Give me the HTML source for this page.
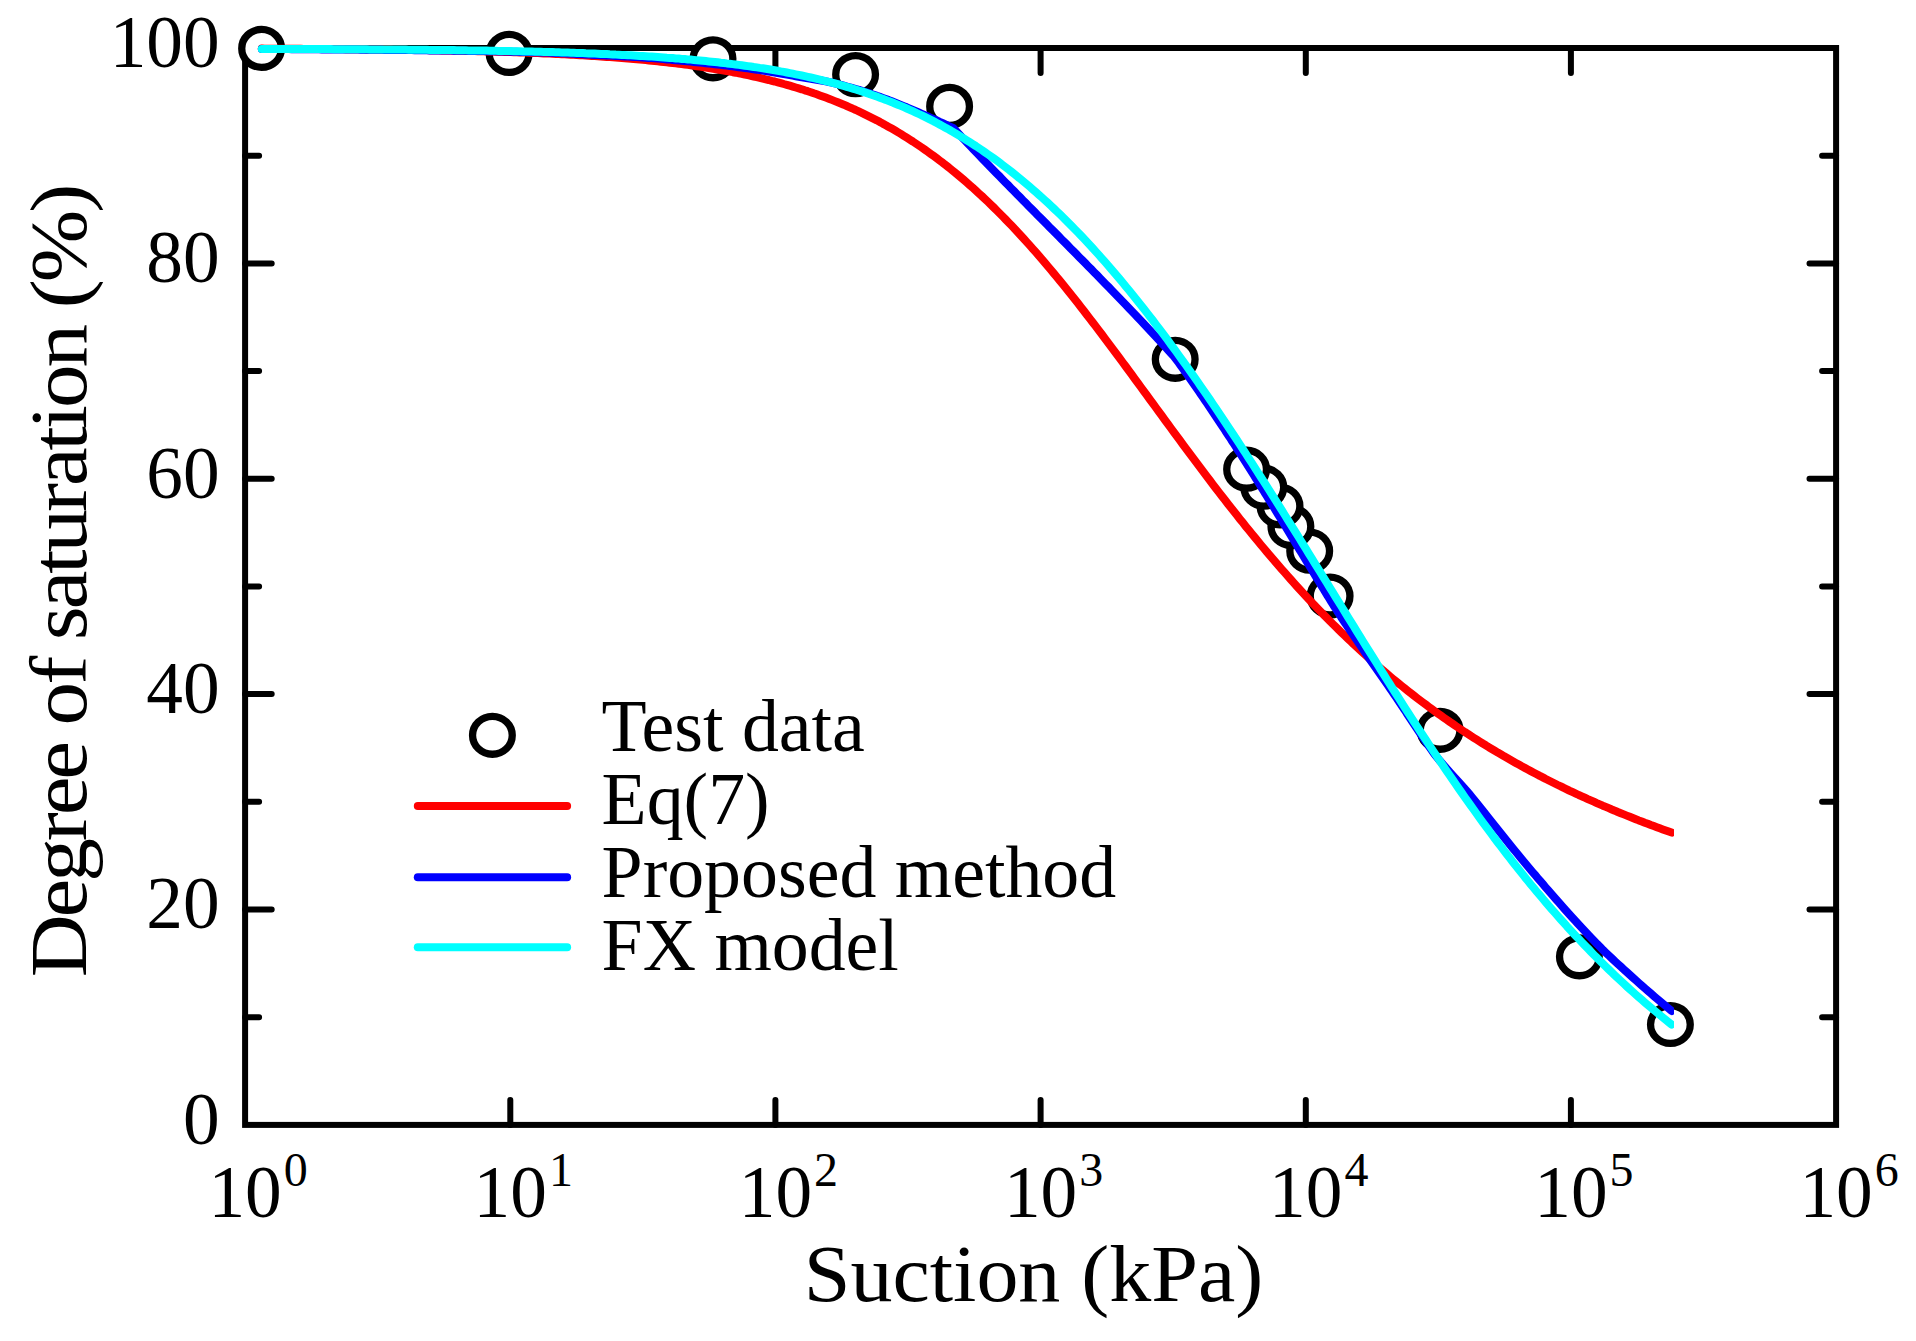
<!DOCTYPE html>
<html><head><meta charset="utf-8"><title>Chart</title>
<style>html,body{margin:0;padding:0;background:#fff}svg{display:block}</style></head>
<body>
<svg width="1916" height="1341" viewBox="0 0 1916 1341" style="display:block" font-family="'Liberation Serif', serif" fill="#000">
<rect width="1916" height="1341" fill="#fff"/>
<g stroke="#000" stroke-width="6.0" fill="none" stroke-linecap="round">
<rect x="245.1" y="48.0" width="1591.0" height="1076.9" stroke-linejoin="miter"/>
<path d="M245.1,1017.2h14.0M1836.1,1017.2h-14.0"/>
<path d="M245.1,909.5h26.6M1836.1,909.5h-26.6"/>
<path d="M245.1,801.8h14.0M1836.1,801.8h-14.0"/>
<path d="M245.1,694.1h26.6M1836.1,694.1h-26.6"/>
<path d="M245.1,586.5h14.0M1836.1,586.5h-14.0"/>
<path d="M245.1,478.8h26.6M1836.1,478.8h-26.6"/>
<path d="M245.1,371.1h14.0M1836.1,371.1h-14.0"/>
<path d="M245.1,263.4h26.6M1836.1,263.4h-26.6"/>
<path d="M245.1,155.7h14.0M1836.1,155.7h-14.0"/>
<path d="M510.3,1124.9v-25M510.3,48.0v25"/>
<path d="M775.4,1124.9v-25M775.4,48.0v25"/>
<path d="M1040.6,1124.9v-25M1040.6,48.0v25"/>
<path d="M1305.8,1124.9v-25M1305.8,48.0v25"/>
<path d="M1570.9,1124.9v-25M1570.9,48.0v25"/>
</g>
<g font-size="73.3" text-anchor="end">
<text x="219.6" y="1143.6">0</text>
<text x="219.6" y="928.2">20</text>
<text x="219.6" y="712.8">40</text>
<text x="219.6" y="497.5">60</text>
<text x="219.6" y="282.1">80</text>
<text x="219.6" y="66.7">100</text>
</g>
<text x="208.4" y="1216.7" font-size="73.3">10<tspan font-size="48" dx="2" dy="-30.7">0</tspan></text>
<text x="473.6" y="1216.7" font-size="73.3">10<tspan font-size="48" dx="2" dy="-30.7">1</tspan></text>
<text x="738.8" y="1216.7" font-size="73.3">10<tspan font-size="48" dx="2" dy="-30.7">2</tspan></text>
<text x="1003.9" y="1216.7" font-size="73.3">10<tspan font-size="48" dx="2" dy="-30.7">3</tspan></text>
<text x="1269.1" y="1216.7" font-size="73.3">10<tspan font-size="48" dx="2" dy="-30.7">4</tspan></text>
<text x="1534.3" y="1216.7" font-size="73.3">10<tspan font-size="48" dx="2" dy="-30.7">5</tspan></text>
<text x="1799.4" y="1216.7" font-size="73.3">10<tspan font-size="48" dx="2" dy="-30.7">6</tspan></text>
<text transform="translate(1033.5,1301) scale(1.05,1)" text-anchor="middle" font-size="80">Suction (kPa)</text>
<text transform="translate(86,582.1) rotate(-90) scale(1.09,1)" text-anchor="middle" font-size="79.9" letter-spacing="-2.78">Degree of saturation (%)</text>
<g stroke="#000" stroke-width="7.3" fill="#fff">
<ellipse cx="1670.4" cy="1024.5" rx="19.85" ry="18.95"/>
<ellipse cx="1579.4" cy="956.8" rx="19.85" ry="18.95"/>
<ellipse cx="1440.1" cy="730.3" rx="19.85" ry="18.95"/>
<ellipse cx="1330.1" cy="596" rx="19.85" ry="18.95"/>
<ellipse cx="1309.7" cy="551.1" rx="19.85" ry="18.95"/>
<ellipse cx="1290.9" cy="526.5" rx="19.85" ry="18.95"/>
<ellipse cx="1280" cy="506" rx="19.85" ry="18.95"/>
<ellipse cx="1263.8" cy="487.2" rx="19.85" ry="18.95"/>
<ellipse cx="1246.6" cy="469.2" rx="19.85" ry="18.95"/>
<ellipse cx="1175.2" cy="359.3" rx="19.85" ry="18.95"/>
<ellipse cx="949.6" cy="106.4" rx="19.85" ry="18.95"/>
<ellipse cx="855.6" cy="74.6" rx="19.85" ry="18.95"/>
<ellipse cx="713.0" cy="58.8" rx="19.85" ry="18.95"/>
<ellipse cx="509.1" cy="53.4" rx="19.85" ry="18.95"/>
<ellipse cx="261.6" cy="48.4" rx="19.85" ry="18.95"/>
</g>
<clipPath id="c"><rect x="0" y="0" width="1674.1" height="1341"/></clipPath>
<g fill="none" stroke-width="8" stroke-linejoin="round" stroke-linecap="round" clip-path="url(#c)">
<path stroke="#f00" d="M261.8,48.6 L264.8,48.7 L267.8,48.7 L270.8,48.7 L273.8,48.7 L276.8,48.7 L279.8,48.7 L282.8,48.7 L285.8,48.8 L288.8,48.8 L291.8,48.8 L294.8,48.8 L297.8,48.8 L300.8,48.8 L303.8,48.9 L306.8,48.9 L309.8,48.9 L312.8,48.9 L315.8,48.9 L318.8,49.0 L321.8,49.0 L324.8,49.0 L327.8,49.0 L330.8,49.0 L333.8,49.1 L336.8,49.1 L339.8,49.1 L342.8,49.1 L345.8,49.2 L348.8,49.2 L351.8,49.2 L354.8,49.2 L357.8,49.3 L360.8,49.3 L363.8,49.3 L366.8,49.4 L369.8,49.4 L372.8,49.4 L375.8,49.4 L378.8,49.5 L381.8,49.5 L384.8,49.5 L387.8,49.6 L390.8,49.6 L393.8,49.7 L396.8,49.7 L399.8,49.7 L402.8,49.8 L405.8,49.8 L408.8,49.9 L411.8,49.9 L414.8,49.9 L417.8,50.0 L420.8,50.0 L423.8,50.1 L426.8,50.1 L429.8,50.2 L432.8,50.2 L435.8,50.3 L438.8,50.3 L441.8,50.4 L444.8,50.5 L447.8,50.5 L450.8,50.6 L453.8,50.6 L456.8,50.7 L459.8,50.8 L462.8,50.8 L465.8,50.9 L468.8,51.0 L471.8,51.0 L474.8,51.1 L477.8,51.2 L480.8,51.3 L483.8,51.3 L486.8,51.4 L489.8,51.5 L492.8,51.6 L495.8,51.7 L498.8,51.8 L501.8,51.8 L504.8,51.9 L507.8,52.0 L510.8,52.1 L513.8,52.2 L516.8,52.3 L519.8,52.4 L522.8,52.5 L525.8,52.6 L528.8,52.8 L531.8,52.9 L534.8,53.0 L537.8,53.1 L540.8,53.2 L543.8,53.4 L546.8,53.5 L549.8,53.6 L552.8,53.8 L555.8,53.9 L558.8,54.0 L561.8,54.2 L564.8,54.3 L567.8,54.5 L570.8,54.7 L573.8,54.8 L576.8,55.0 L579.8,55.2 L582.8,55.3 L585.8,55.5 L588.8,55.7 L591.8,55.9 L594.8,56.1 L597.8,56.3 L600.8,56.5 L603.8,56.7 L606.8,56.9 L609.8,57.1 L612.8,57.3 L615.8,57.5 L618.8,57.8 L621.8,58.0 L624.8,58.2 L627.8,58.5 L630.8,58.7 L633.8,59.0 L636.8,59.3 L639.8,59.6 L642.8,59.8 L645.8,60.1 L648.8,60.4 L651.8,60.7 L654.8,61.0 L657.8,61.3 L660.8,61.7 L663.8,62.0 L666.8,62.3 L669.8,62.7 L672.8,63.0 L675.8,63.4 L678.8,63.8 L681.8,64.1 L684.8,64.5 L687.8,64.9 L690.8,65.3 L693.8,65.8 L696.8,66.2 L699.8,66.6 L702.8,67.1 L705.8,67.5 L708.8,68.0 L711.8,68.5 L714.8,69.0 L717.8,69.5 L720.8,70.0 L723.8,70.5 L726.8,71.1 L729.8,71.6 L732.8,72.2 L735.8,72.7 L738.8,73.3 L741.8,73.9 L744.8,74.6 L747.8,75.2 L750.8,75.8 L753.8,76.5 L756.8,77.2 L759.8,77.9 L762.8,78.6 L765.8,79.3 L768.8,80.0 L771.8,80.8 L774.8,81.5 L777.8,82.3 L780.8,83.1 L783.8,84.0 L786.8,84.8 L789.8,85.7 L792.8,86.6 L795.8,87.5 L798.8,88.4 L801.8,89.3 L804.8,90.3 L807.8,91.2 L810.8,92.2 L813.8,93.3 L816.8,94.3 L819.8,95.4 L822.8,96.5 L825.8,97.6 L828.8,98.7 L831.8,99.9 L834.8,101.1 L837.8,102.3 L840.8,103.5 L843.8,104.7 L846.8,106.0 L849.8,107.3 L852.8,108.7 L855.8,110.0 L858.8,111.4 L861.8,112.8 L864.8,114.3 L867.8,115.8 L870.8,117.3 L873.8,118.8 L876.8,120.3 L879.8,121.9 L882.8,123.6 L885.8,125.2 L888.8,126.9 L891.8,128.6 L894.8,130.3 L897.8,132.1 L900.8,133.9 L903.8,135.8 L906.8,137.7 L909.8,139.6 L912.8,141.5 L915.8,143.5 L918.8,145.5 L921.8,147.5 L924.8,149.6 L927.8,151.7 L930.8,153.9 L933.8,156.1 L936.8,158.3 L939.8,160.6 L942.8,162.8 L945.8,165.2 L948.8,167.5 L951.8,170.0 L954.8,172.4 L957.8,174.9 L960.8,177.4 L963.8,179.9 L966.8,182.5 L969.8,185.2 L972.8,187.8 L975.8,190.5 L978.8,193.3 L981.8,196.0 L984.8,198.9 L987.8,201.7 L990.8,204.6 L993.8,207.5 L996.8,210.5 L999.8,213.5 L1002.8,216.5 L1005.8,219.6 L1008.8,222.7 L1011.8,225.8 L1014.8,229.0 L1017.8,232.2 L1020.8,235.5 L1023.8,238.8 L1026.8,242.1 L1029.8,245.4 L1032.8,248.8 L1035.8,252.2 L1038.8,255.7 L1041.8,259.1 L1044.8,262.6 L1047.8,266.2 L1050.8,269.8 L1053.8,273.4 L1056.8,277.0 L1059.8,280.6 L1062.8,284.3 L1065.8,288.0 L1068.8,291.8 L1071.8,295.5 L1074.8,299.3 L1077.8,303.1 L1080.8,306.9 L1083.8,310.8 L1086.8,314.7 L1089.8,318.6 L1092.8,322.5 L1095.8,326.4 L1098.8,330.4 L1101.8,334.3 L1104.8,338.3 L1107.8,342.3 L1110.8,346.3 L1113.8,350.3 L1116.8,354.4 L1119.8,358.4 L1122.8,362.5 L1125.8,366.5 L1128.8,370.6 L1131.8,374.7 L1134.8,378.8 L1137.8,382.9 L1140.8,387.0 L1143.8,391.1 L1146.8,395.2 L1149.8,399.3 L1152.8,403.4 L1155.8,407.5 L1158.8,411.6 L1161.8,415.7 L1164.8,419.8 L1167.8,423.9 L1170.8,428.0 L1173.8,432.1 L1176.8,436.1 L1179.8,440.2 L1182.8,444.3 L1185.8,448.3 L1188.8,452.4 L1191.8,456.4 L1194.8,460.4 L1197.8,464.4 L1200.8,468.4 L1203.8,472.4 L1206.8,476.4 L1209.8,480.3 L1212.8,484.3 L1215.8,488.2 L1218.8,492.1 L1221.8,496.0 L1224.8,499.8 L1227.8,503.7 L1230.8,507.5 L1233.8,511.3 L1236.8,515.1 L1239.8,518.9 L1242.8,522.6 L1245.8,526.4 L1248.8,530.1 L1251.8,533.8 L1254.8,537.4 L1257.8,541.1 L1260.8,544.7 L1263.8,548.3 L1266.8,551.9 L1269.8,555.4 L1272.8,558.9 L1275.8,562.4 L1278.8,565.9 L1281.8,569.3 L1284.8,572.7 L1287.8,576.1 L1290.8,579.5 L1293.8,582.9 L1296.8,586.2 L1299.8,589.5 L1302.8,592.7 L1305.8,596.0 L1308.8,599.2 L1311.8,602.4 L1314.8,605.5 L1317.8,608.7 L1320.8,611.8 L1323.8,614.9 L1326.8,617.9 L1329.8,621.0 L1332.8,624.0 L1335.8,626.9 L1338.8,629.9 L1341.8,632.8 L1344.8,635.7 L1347.8,638.6 L1350.8,641.4 L1353.8,644.3 L1356.8,647.0 L1359.8,649.8 L1362.8,652.6 L1365.8,655.3 L1368.8,658.0 L1371.8,660.7 L1374.8,663.3 L1377.8,665.9 L1380.8,668.5 L1383.8,671.1 L1386.8,673.6 L1389.8,676.2 L1392.8,678.7 L1395.8,681.1 L1398.8,683.6 L1401.8,686.0 L1404.8,688.4 L1407.8,690.8 L1410.8,693.2 L1413.8,695.5 L1416.8,697.8 L1419.8,700.1 L1422.8,702.4 L1425.8,704.6 L1428.8,706.9 L1431.8,709.1 L1434.8,711.2 L1437.8,713.4 L1440.8,715.6 L1443.8,717.7 L1446.8,719.8 L1449.8,721.9 L1452.8,723.9 L1455.8,726.0 L1458.8,728.0 L1461.8,730.0 L1464.8,732.0 L1467.8,733.9 L1470.8,735.9 L1473.8,737.8 L1476.8,739.7 L1479.8,741.6 L1482.8,743.5 L1485.8,745.3 L1488.8,747.2 L1491.8,749.0 L1494.8,750.8 L1497.8,752.6 L1500.8,754.3 L1503.8,756.1 L1506.8,757.8 L1509.8,759.5 L1512.8,761.2 L1515.8,762.9 L1518.8,764.6 L1521.8,766.3 L1524.8,767.9 L1527.8,769.5 L1530.8,771.1 L1533.8,772.7 L1536.8,774.3 L1539.8,775.9 L1542.8,777.4 L1545.8,779.0 L1548.8,780.5 L1551.8,782.0 L1554.8,783.5 L1557.8,785.0 L1560.8,786.4 L1563.8,787.9 L1566.8,789.3 L1569.8,790.8 L1572.8,792.2 L1575.8,793.6 L1578.8,795.0 L1581.8,796.3 L1584.8,797.7 L1587.8,799.1 L1590.8,800.4 L1593.8,801.7 L1596.8,803.1 L1599.8,804.4 L1602.8,805.7 L1605.8,806.9 L1608.8,808.2 L1611.8,809.5 L1614.8,810.7 L1617.8,812.0 L1620.8,813.2 L1623.8,814.4 L1626.8,815.6 L1629.8,816.8 L1632.8,818.0 L1635.8,819.2 L1638.8,820.4 L1641.8,821.5 L1644.8,822.7 L1647.8,823.8 L1650.8,825.0 L1653.8,826.1 L1656.8,827.2 L1659.8,828.3 L1662.8,829.4 L1665.8,830.5 L1668.8,831.6 L1671.6,832.6"/>
<path stroke="#00f" d="M261.8,49.0 L264.8,49.0 L267.8,49.0 L270.8,49.0 L273.8,49.1 L276.8,49.1 L279.8,49.1 L282.8,49.1 L285.8,49.1 L288.8,49.1 L291.8,49.2 L294.8,49.2 L297.8,49.2 L300.8,49.2 L303.8,49.2 L306.8,49.3 L309.8,49.3 L312.8,49.3 L315.8,49.3 L318.8,49.3 L321.8,49.4 L324.8,49.4 L327.8,49.4 L330.8,49.4 L333.8,49.5 L336.8,49.5 L339.8,49.5 L342.8,49.5 L345.8,49.5 L348.8,49.6 L351.8,49.6 L354.8,49.6 L357.8,49.6 L360.8,49.7 L363.8,49.7 L366.8,49.7 L369.8,49.7 L372.8,49.8 L375.8,49.8 L378.8,49.8 L381.8,49.8 L384.8,49.9 L387.8,49.9 L390.8,49.9 L393.8,50.0 L396.8,50.0 L399.8,50.0 L402.8,50.0 L405.8,50.1 L408.8,50.1 L411.8,50.1 L414.8,50.2 L417.8,50.2 L420.8,50.2 L423.8,50.3 L426.8,50.3 L429.8,50.4 L432.8,50.4 L435.8,50.4 L438.8,50.5 L441.8,50.5 L444.8,50.5 L447.8,50.6 L450.8,50.6 L453.8,50.7 L456.8,50.7 L459.8,50.7 L462.8,50.8 L465.8,50.8 L468.8,50.9 L471.8,50.9 L474.8,51.0 L477.8,51.0 L480.8,51.1 L483.8,51.1 L486.8,51.2 L489.8,51.2 L492.8,51.3 L495.8,51.3 L498.8,51.4 L501.8,51.5 L504.8,51.5 L507.8,51.6 L510.8,51.7 L513.8,51.7 L516.8,51.8 L519.8,51.9 L522.8,51.9 L525.8,52.0 L528.8,52.1 L531.8,52.2 L534.8,52.2 L537.8,52.3 L540.8,52.4 L543.8,52.5 L546.8,52.6 L549.8,52.7 L552.8,52.8 L555.8,52.9 L558.8,53.0 L561.8,53.2 L564.8,53.3 L567.8,53.5 L570.8,53.6 L573.8,53.8 L576.8,53.9 L579.8,54.1 L582.8,54.3 L585.8,54.4 L588.8,54.6 L591.8,54.7 L594.8,54.9 L597.8,55.0 L600.8,55.2 L603.8,55.3 L606.8,55.5 L609.8,55.6 L612.8,55.8 L615.8,55.9 L618.8,56.1 L621.8,56.2 L624.8,56.4 L627.8,56.5 L630.8,56.7 L633.8,56.9 L636.8,57.1 L639.8,57.3 L642.8,57.5 L645.8,57.7 L648.8,57.9 L651.8,58.1 L654.8,58.3 L657.8,58.6 L660.8,58.8 L663.8,59.1 L666.8,59.4 L669.8,59.6 L672.8,59.9 L675.8,60.2 L678.8,60.5 L681.8,60.7 L684.8,61.0 L687.8,61.3 L690.8,61.6 L693.8,61.9 L696.8,62.2 L699.8,62.5 L702.8,62.8 L705.8,63.2 L708.8,63.5 L711.8,63.8 L714.8,64.2 L717.8,64.5 L720.8,64.9 L723.8,65.3 L726.8,65.6 L729.8,66.0 L732.8,66.4 L735.8,66.8 L738.8,67.2 L741.8,67.6 L744.8,68.0 L747.8,68.4 L750.8,68.8 L753.8,69.3 L756.8,69.7 L759.8,70.1 L762.8,70.6 L765.8,71.1 L768.8,71.5 L771.8,72.0 L774.8,72.5 L777.8,73.0 L780.8,73.5 L783.8,74.1 L786.8,74.6 L789.8,75.1 L792.8,75.7 L795.8,76.3 L798.8,76.8 L801.8,77.4 L804.8,77.9 L807.8,78.4 L810.8,78.8 L813.8,79.3 L816.8,79.8 L819.8,80.3 L822.8,80.8 L825.8,81.4 L828.8,82.0 L831.8,82.6 L834.8,83.4 L837.8,84.1 L840.8,84.9 L843.8,85.7 L846.8,86.5 L849.8,87.3 L852.8,88.2 L855.8,89.0 L858.8,89.9 L861.8,90.9 L864.8,91.8 L867.8,92.8 L870.8,93.7 L873.8,94.7 L876.8,95.8 L879.8,96.8 L882.8,97.9 L885.8,99.0 L888.8,100.1 L891.8,101.3 L894.8,102.5 L897.8,103.7 L900.8,104.9 L903.8,106.1 L906.8,107.3 L909.8,108.6 L912.8,109.9 L915.8,111.2 L918.8,112.5 L921.8,113.8 L924.8,115.2 L927.8,116.5 L930.8,117.8 L933.8,119.1 L936.8,120.4 L939.8,121.8 L942.8,123.1 L945.8,124.5 L948.8,126.0 L951.8,127.4 L953.5,128.2 L956.3,131.2 L959.1,134.2 L961.9,137.2 L964.8,140.2 L967.6,143.2 L970.5,146.2 L973.3,149.2 L976.2,152.2 L979.1,155.2 L981.9,158.2 L984.8,161.2 L987.7,164.2 L990.6,167.2 L993.5,170.2 L996.4,173.2 L999.4,176.2 L1002.3,179.2 L1005.2,182.2 L1008.2,185.2 L1011.1,188.2 L1014.1,191.2 L1017.0,194.2 L1020.0,197.2 L1022.9,200.2 L1025.9,203.2 L1028.8,206.2 L1031.8,209.2 L1034.8,212.2 L1037.7,215.2 L1040.7,218.2 L1043.7,221.2 L1046.7,224.2 L1049.6,227.2 L1052.6,230.2 L1055.6,233.2 L1058.6,236.2 L1061.5,239.2 L1064.5,242.2 L1067.5,245.2 L1070.4,248.2 L1073.4,251.2 L1076.4,254.2 L1079.3,257.2 L1082.3,260.2 L1085.3,263.2 L1088.2,266.2 L1091.2,269.2 L1094.1,272.2 L1097.1,275.2 L1100.0,278.2 L1102.9,281.2 L1105.8,284.2 L1108.8,287.2 L1111.7,290.2 L1114.6,293.2 L1117.5,296.2 L1120.4,299.2 L1123.3,302.2 L1126.2,305.2 L1129.0,308.2 L1131.9,311.2 L1134.8,314.2 L1137.6,317.2 L1140.5,320.2 L1143.3,323.2 L1146.1,326.2 L1148.9,329.2 L1151.7,332.2 L1154.5,335.2 L1157.3,338.2 L1160.1,341.2 L1162.8,344.2 L1165.6,347.2 L1168.3,350.2 L1171.0,353.2 L1173.8,356.2 L1176.1,359.2 L1178.3,362.2 L1180.4,365.2 L1182.6,368.2 L1184.7,371.2 L1186.9,374.2 L1189.0,377.2 L1191.1,380.2 L1193.2,383.2 L1195.3,386.2 L1197.4,389.2 L1199.5,392.2 L1201.5,395.2 L1203.6,398.2 L1205.6,401.2 L1207.7,404.2 L1209.7,407.2 L1211.7,410.2 L1213.7,413.2 L1215.7,416.2 L1217.7,419.2 L1219.7,422.2 L1221.7,425.2 L1223.7,428.2 L1225.6,431.2 L1227.6,434.2 L1229.6,437.2 L1231.5,440.2 L1233.5,443.2 L1235.4,446.2 L1237.3,449.2 L1239.3,452.2 L1241.2,455.2 L1243.1,458.2 L1245.0,461.2 L1246.9,464.2 L1248.8,467.2 L1250.7,470.2 L1252.6,473.2 L1254.5,476.2 L1256.3,479.2 L1258.2,482.2 L1260.1,485.2 L1261.9,488.2 L1263.8,491.2 L1265.6,494.2 L1267.5,497.2 L1269.3,500.2 L1271.2,503.2 L1273.0,506.2 L1274.9,509.2 L1276.7,512.2 L1278.5,515.2 L1280.4,518.2 L1282.2,521.2 L1284.0,524.2 L1285.9,527.2 L1287.7,530.2 L1289.5,533.2 L1291.3,536.2 L1293.1,539.2 L1295.0,542.2 L1296.8,545.2 L1298.6,548.2 L1300.4,551.2 L1302.3,554.2 L1304.1,557.2 L1305.9,560.2 L1307.7,563.2 L1309.6,566.2 L1311.4,569.2 L1313.2,572.2 L1315.0,575.2 L1316.8,578.2 L1318.7,581.2 L1320.5,584.2 L1322.3,587.2 L1324.2,590.2 L1326.0,593.2 L1327.8,596.2 L1329.7,599.2 L1331.5,602.2 L1333.4,605.2 L1335.4,608.2 L1337.3,611.2 L1339.3,614.2 L1341.2,617.2 L1343.2,620.2 L1345.2,623.2 L1347.3,626.2 L1349.3,629.2 L1351.3,632.2 L1353.4,635.2 L1355.4,638.2 L1357.5,641.2 L1359.5,644.2 L1361.6,647.2 L1363.6,650.2 L1365.6,653.2 L1367.7,656.2 L1369.7,659.2 L1371.8,662.2 L1373.9,665.2 L1376.0,668.2 L1378.1,671.2 L1380.2,674.2 L1382.3,677.2 L1384.4,680.2 L1386.5,683.2 L1388.6,686.2 L1390.6,689.2 L1392.7,692.2 L1394.7,695.2 L1396.8,698.2 L1398.8,701.2 L1400.8,704.2 L1402.8,707.2 L1404.8,710.2 L1406.7,713.2 L1408.7,716.2 L1410.7,719.2 L1412.7,722.2 L1414.7,725.2 L1416.7,728.2 L1418.7,731.2 L1420.7,734.2 L1422.7,737.2 L1424.8,740.2 L1426.8,743.2 L1428.9,746.2 L1431.0,749.2 L1433.1,752.2 L1435.4,755.2 L1437.8,758.2 L1440.2,761.2 L1442.8,764.2 L1445.4,767.2 L1448.0,770.2 L1450.7,773.2 L1453.4,776.2 L1456.2,779.2 L1458.9,782.2 L1461.6,785.2 L1464.3,788.2 L1466.9,791.2 L1469.5,794.2 L1472.0,797.2 L1474.5,800.2 L1476.9,803.2 L1479.3,806.2 L1481.7,809.2 L1484.1,812.2 L1486.4,815.2 L1488.8,818.2 L1491.2,821.2 L1493.6,824.2 L1496.0,827.2 L1498.4,830.2 L1500.8,833.2 L1503.2,836.2 L1505.6,839.2 L1508.0,842.2 L1510.4,845.2 L1512.8,848.2 L1515.3,851.2 L1517.8,854.2 L1520.2,857.2 L1522.7,860.2 L1525.2,863.2 L1527.7,866.2 L1530.2,869.2 L1532.7,872.2 L1535.3,875.2 L1537.8,878.2 L1540.4,881.2 L1543.0,884.2 L1545.5,887.2 L1548.1,890.2 L1550.7,893.2 L1553.3,896.2 L1556.0,899.2 L1558.6,902.2 L1561.2,905.2 L1563.9,908.2 L1566.6,911.2 L1569.3,914.2 L1572.0,917.2 L1574.8,920.2 L1577.5,923.2 L1580.3,926.2 L1583.1,929.2 L1585.9,932.2 L1588.7,935.2 L1591.6,938.2 L1594.5,941.2 L1597.3,944.2 L1600.3,947.2 L1603.0,950.0 L1606.0,952.9 L1609.0,955.7 L1612.0,958.5 L1615.0,961.3 L1618.0,964.1 L1621.0,966.8 L1624.0,969.6 L1627.0,972.3 L1630.0,975.0 L1633.0,977.7 L1636.0,980.4 L1639.0,983.1 L1642.0,985.7 L1645.0,988.4 L1648.0,991.0 L1651.0,993.6 L1654.0,996.2 L1657.0,998.7 L1660.0,1001.3 L1663.0,1003.8 L1666.0,1006.3 L1669.0,1008.8 L1671.6,1010.9"/>
<path stroke="#0ff" d="M261.8,48.9 L264.8,48.9 L267.8,48.9 L270.8,48.9 L273.8,48.9 L276.8,48.9 L279.8,48.9 L282.8,49.0 L285.8,49.0 L288.8,49.0 L291.8,49.0 L294.8,49.0 L297.8,49.0 L300.8,49.0 L303.8,49.0 L306.8,49.0 L309.8,49.0 L312.8,49.1 L315.8,49.1 L318.8,49.1 L321.8,49.1 L324.8,49.1 L327.8,49.1 L330.8,49.1 L333.8,49.2 L336.8,49.2 L339.8,49.2 L342.8,49.2 L345.8,49.2 L348.8,49.2 L351.8,49.2 L354.8,49.3 L357.8,49.3 L360.8,49.3 L363.8,49.3 L366.8,49.3 L369.8,49.4 L372.8,49.4 L375.8,49.4 L378.8,49.4 L381.8,49.4 L384.8,49.5 L387.8,49.5 L390.8,49.5 L393.8,49.5 L396.8,49.6 L399.8,49.6 L402.8,49.6 L405.8,49.6 L408.8,49.7 L411.8,49.7 L414.8,49.7 L417.8,49.7 L420.8,49.8 L423.8,49.8 L426.8,49.8 L429.8,49.9 L432.8,49.9 L435.8,49.9 L438.8,50.0 L441.8,50.0 L444.8,50.0 L447.8,50.1 L450.8,50.1 L453.8,50.1 L456.8,50.2 L459.8,50.2 L462.8,50.3 L465.8,50.3 L468.8,50.4 L471.8,50.4 L474.8,50.4 L477.8,50.5 L480.8,50.5 L483.8,50.6 L486.8,50.6 L489.8,50.7 L492.8,50.7 L495.8,50.8 L498.8,50.9 L501.8,50.9 L504.8,51.0 L507.8,51.0 L510.8,51.1 L513.8,51.2 L516.8,51.2 L519.8,51.3 L522.8,51.4 L525.8,51.4 L528.8,51.5 L531.8,51.6 L534.8,51.7 L537.8,51.7 L540.8,51.8 L543.8,51.9 L546.8,52.0 L549.8,52.1 L552.8,52.1 L555.8,52.2 L558.8,52.3 L561.8,52.4 L564.8,52.5 L567.8,52.6 L570.8,52.7 L573.8,52.8 L576.8,52.9 L579.8,53.0 L582.8,53.1 L585.8,53.3 L588.8,53.4 L591.8,53.5 L594.8,53.6 L597.8,53.7 L600.8,53.9 L603.8,54.0 L606.8,54.1 L609.8,54.3 L612.8,54.4 L615.8,54.6 L618.8,54.7 L621.8,54.9 L624.8,55.0 L627.8,55.2 L630.8,55.3 L633.8,55.5 L636.8,55.7 L639.8,55.9 L642.8,56.0 L645.8,56.2 L648.8,56.4 L651.8,56.6 L654.8,56.8 L657.8,57.0 L660.8,57.2 L663.8,57.4 L666.8,57.7 L669.8,57.9 L672.8,58.1 L675.8,58.4 L678.8,58.6 L681.8,58.9 L684.8,59.1 L687.8,59.4 L690.8,59.6 L693.8,59.9 L696.8,60.2 L699.8,60.5 L702.8,60.8 L705.8,61.1 L708.8,61.4 L711.8,61.7 L714.8,62.0 L717.8,62.3 L720.8,62.7 L723.8,63.0 L726.8,63.4 L729.8,63.7 L732.8,64.1 L735.8,64.5 L738.8,64.9 L741.8,65.3 L744.8,65.7 L747.8,66.1 L750.8,66.5 L753.8,67.0 L756.8,67.4 L759.8,67.9 L762.8,68.3 L765.8,68.8 L768.8,69.3 L771.8,69.8 L774.8,70.3 L777.8,70.8 L780.8,71.4 L783.8,71.9 L786.8,72.5 L789.8,73.1 L792.8,73.7 L795.8,74.3 L798.8,74.9 L801.8,75.5 L804.8,76.1 L807.8,76.8 L810.8,77.5 L813.8,78.2 L816.8,78.9 L819.8,79.6 L822.8,80.3 L825.8,81.1 L828.8,81.8 L831.8,82.6 L834.8,83.4 L837.8,84.2 L840.8,85.1 L843.8,85.9 L846.8,86.8 L849.8,87.7 L852.8,88.6 L855.8,89.5 L858.8,90.5 L861.8,91.4 L864.8,92.4 L867.8,93.4 L870.8,94.4 L873.8,95.5 L876.8,96.6 L879.8,97.7 L882.8,98.8 L885.8,99.9 L888.8,101.1 L891.8,102.2 L894.8,103.5 L897.8,104.7 L900.8,105.9 L903.8,107.2 L906.8,108.5 L909.8,109.8 L912.8,111.2 L915.8,112.6 L918.8,114.0 L921.8,115.4 L924.8,116.9 L927.8,118.4 L930.8,119.9 L933.8,121.4 L936.8,123.0 L939.8,124.6 L942.8,126.2 L945.8,127.9 L948.8,129.5 L951.8,131.3 L954.8,133.0 L957.8,134.8 L960.8,136.6 L963.8,138.4 L966.8,140.3 L969.8,142.2 L972.8,144.1 L975.8,146.0 L978.8,148.0 L981.8,150.0 L984.8,152.1 L987.8,154.2 L990.8,156.3 L993.8,158.4 L996.8,160.6 L999.8,162.8 L1002.8,165.1 L1005.8,167.4 L1008.8,169.7 L1011.8,172.0 L1014.8,174.4 L1017.8,176.8 L1020.8,179.3 L1023.8,181.8 L1026.8,184.3 L1029.8,186.8 L1032.8,189.4 L1035.8,192.0 L1038.8,194.7 L1041.8,197.4 L1044.8,200.1 L1047.8,202.8 L1050.8,205.6 L1053.8,208.5 L1056.8,211.3 L1059.8,214.2 L1062.8,217.1 L1065.8,220.1 L1068.8,223.1 L1071.8,226.1 L1074.8,229.2 L1077.8,232.3 L1080.8,235.4 L1083.8,238.6 L1086.8,241.8 L1089.8,245.0 L1092.8,248.3 L1095.8,251.6 L1098.8,254.9 L1101.8,258.3 L1104.8,261.7 L1107.8,265.1 L1110.8,268.6 L1113.8,272.1 L1116.8,275.6 L1119.8,279.1 L1122.8,282.7 L1125.8,286.4 L1128.8,290.0 L1131.8,293.7 L1134.8,297.4 L1137.8,301.2 L1140.8,304.9 L1143.8,308.7 L1146.8,312.6 L1149.8,316.4 L1152.8,320.3 L1155.8,324.3 L1158.8,328.2 L1161.8,332.2 L1164.8,336.2 L1167.8,340.2 L1170.8,344.3 L1173.8,348.4 L1176.8,352.5 L1179.8,356.7 L1182.8,360.8 L1185.8,365.0 L1188.8,369.2 L1191.8,373.5 L1194.8,377.8 L1197.8,382.0 L1200.8,386.4 L1203.8,390.7 L1206.8,395.1 L1209.8,399.4 L1212.8,403.9 L1215.8,408.3 L1218.8,412.7 L1221.8,417.2 L1224.8,421.7 L1227.8,426.2 L1230.8,430.7 L1233.8,435.3 L1236.8,439.8 L1239.8,444.4 L1242.8,449.0 L1245.8,453.6 L1248.8,458.3 L1251.8,462.9 L1254.8,467.6 L1257.8,472.3 L1260.8,477.0 L1263.8,481.7 L1266.8,486.4 L1269.8,491.1 L1272.8,495.9 L1275.8,500.6 L1278.8,505.4 L1281.8,510.2 L1284.8,515.0 L1287.8,519.8 L1290.8,524.6 L1293.8,529.4 L1296.8,534.2 L1299.8,539.0 L1302.8,543.9 L1305.8,548.7 L1308.8,553.6 L1311.8,558.4 L1314.8,563.3 L1317.8,568.1 L1320.8,573.0 L1323.8,577.9 L1326.8,582.7 L1329.8,587.6 L1332.8,592.4 L1335.8,597.3 L1338.8,602.2 L1341.8,607.0 L1344.8,611.9 L1347.8,616.8 L1350.8,621.6 L1353.8,626.4 L1356.8,631.3 L1359.8,636.1 L1362.8,641.0 L1365.8,645.8 L1368.8,650.6 L1371.8,655.4 L1374.8,660.2 L1377.8,665.0 L1380.8,669.8 L1383.8,674.5 L1386.8,679.3 L1389.8,684.0 L1392.8,688.8 L1395.8,693.5 L1398.8,698.2 L1401.8,702.9 L1404.8,707.6 L1407.8,712.2 L1410.8,716.9 L1413.8,721.5 L1416.8,726.1 L1419.8,730.7 L1422.8,735.3 L1425.8,739.8 L1428.8,744.4 L1431.8,748.9 L1434.8,753.4 L1437.8,757.9 L1440.8,762.3 L1443.8,766.8 L1446.8,771.2 L1449.8,775.6 L1452.8,779.9 L1455.8,784.3 L1458.8,788.6 L1461.8,792.9 L1464.8,797.2 L1467.8,801.4 L1470.8,805.6 L1473.8,809.8 L1476.8,814.0 L1479.8,818.2 L1482.8,822.3 L1485.8,826.4 L1488.8,830.4 L1491.8,834.5 L1494.8,838.5 L1497.8,842.5 L1500.8,846.4 L1503.8,850.4 L1506.8,854.3 L1509.8,858.1 L1512.8,862.0 L1515.8,865.8 L1518.8,869.6 L1521.8,873.3 L1524.8,877.1 L1527.8,880.7 L1530.8,884.4 L1533.8,888.1 L1536.8,891.7 L1539.8,895.2 L1542.8,898.8 L1545.8,902.3 L1548.8,905.8 L1551.8,909.3 L1554.8,912.7 L1557.8,916.1 L1560.8,919.5 L1563.8,922.8 L1566.8,926.2 L1569.8,929.4 L1572.8,932.7 L1575.8,935.9 L1578.8,939.1 L1581.8,942.3 L1584.8,945.4 L1587.8,948.5 L1590.8,951.6 L1593.8,954.7 L1596.8,957.7 L1599.8,960.7 L1602.8,963.7 L1605.8,966.6 L1608.8,969.5 L1611.8,972.4 L1614.8,975.3 L1617.8,978.1 L1620.8,980.9 L1623.8,983.7 L1626.8,986.5 L1629.8,989.2 L1632.8,991.9 L1635.8,994.6 L1638.8,997.2 L1641.8,999.8 L1644.8,1002.4 L1647.8,1005.0 L1650.8,1007.5 L1653.8,1010.0 L1656.8,1012.5 L1659.8,1015.0 L1662.8,1017.5 L1665.8,1019.9 L1668.8,1022.3 L1671.6,1024.5"/>
</g>
<ellipse cx="492.4" cy="735.3" rx="19.85" ry="18.95" stroke="#000" stroke-width="7.3" fill="#fff"/>
<g fill="none" stroke-width="8" stroke-linecap="round">
<path stroke="#f00" d="M417.8,805.9H567.1"/><path stroke="#00f" d="M417.8,877.2H567.1"/><path stroke="#0ff" d="M417.8,947.3H567.1"/>
</g>
<g font-size="73.8">
<text x="601.6" y="751.1">Test data</text>
<text x="601.6" y="823.5">Eq(7)</text>
<text x="601.6" y="896.8">Proposed method</text>
<text x="601.6" y="969.8">FX model</text>
</g>
</svg>
</body></html>
